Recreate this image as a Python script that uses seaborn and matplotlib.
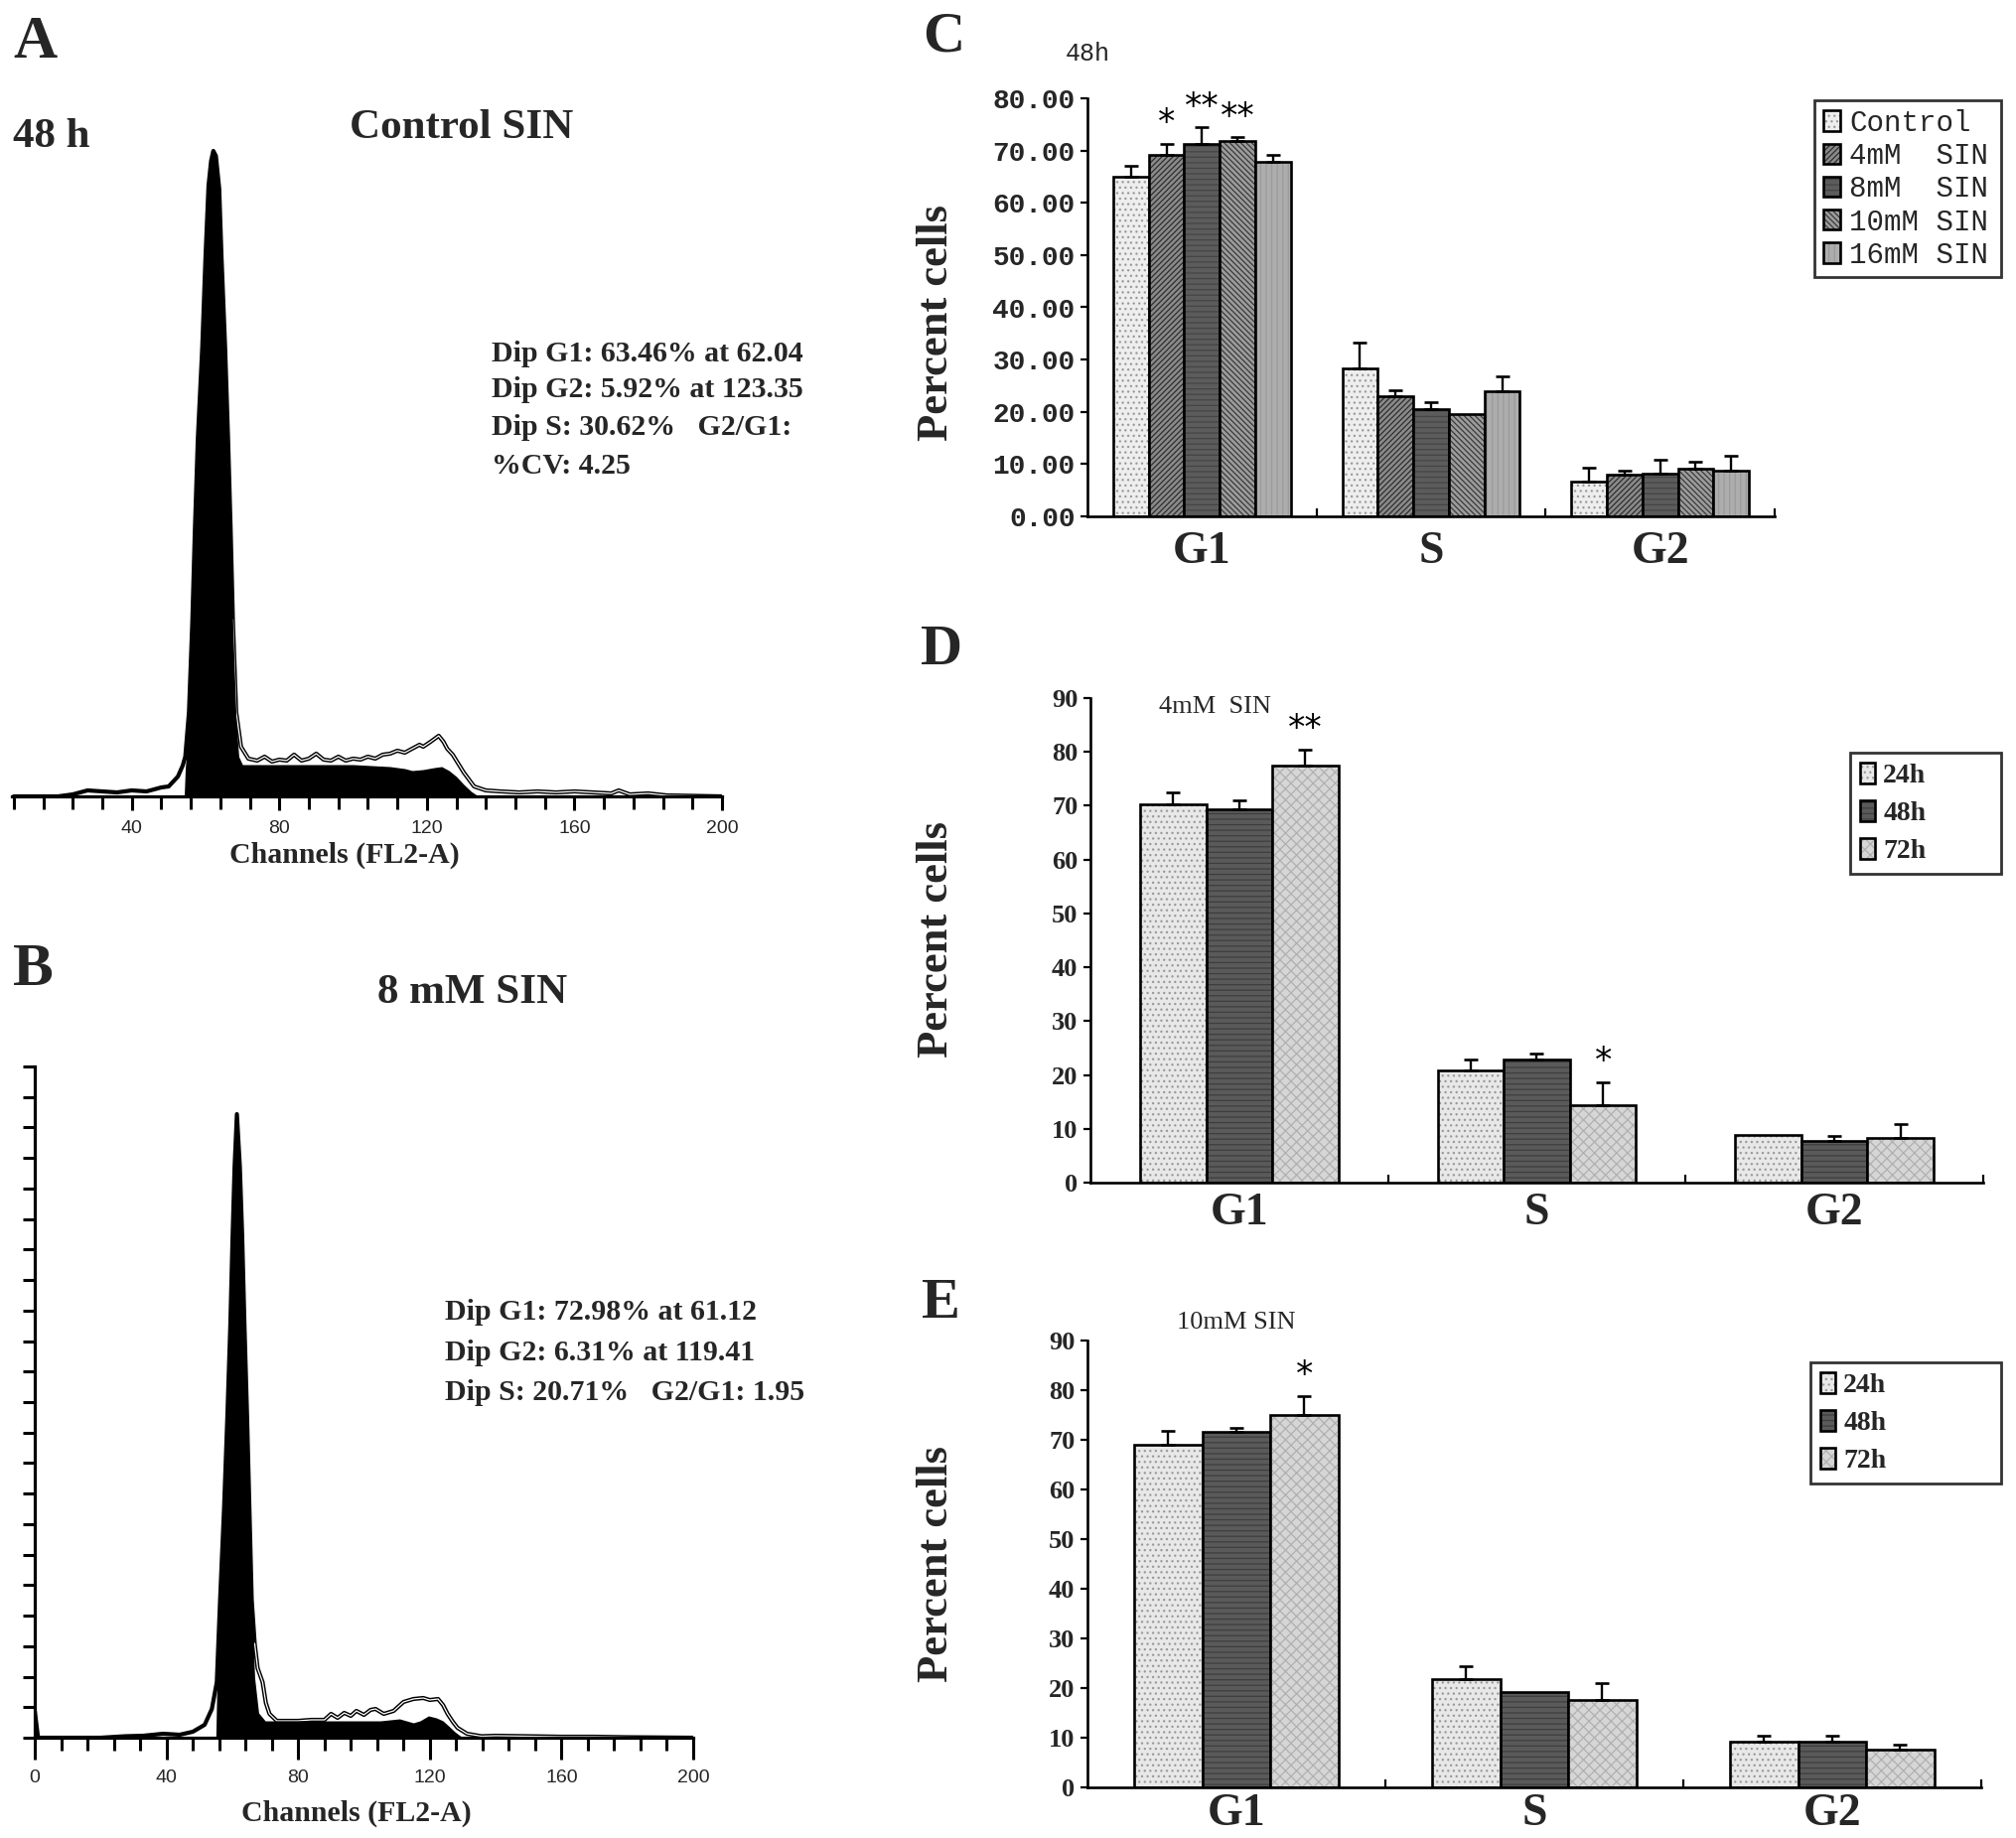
import numpy as np
import pandas as pd
import matplotlib
matplotlib.use("Agg")
import matplotlib.pyplot as plt
import seaborn as sns
from matplotlib.colors import to_rgba

sns.set_theme(style="white")
plt.rcParams["font.family"] = ["Liberation Serif", "DejaVu Sans"]
plt.rcParams["hatch.linewidth"] = 0.9

# ---------------- data: flow cytometry histograms (counts per channel) ----------------
a_raw_ch = [8, 20, 24, 28, 32, 36, 40, 44, 48, 50, 52.5, 53.8, 54.5, 55.5, 56.4, 57.1, 57.9, 59.1,
            60.0, 60.8, 61.5, 62.1, 62.8, 63.7, 64.3, 65.3, 66.1, 66.8, 67.4, 68.3, 69.6, 71.6,
            74, 76, 78, 80, 82, 84, 86, 88, 90, 92, 94, 96, 98, 100, 102, 104, 106, 108, 110, 112,
            114, 116, 118, 119, 121, 123.2, 124.5, 125.5, 127, 128, 130, 132.8, 136, 140, 145, 150,
            155, 160, 165, 170, 172, 175, 180, 185, 200]
a_raw = [0, 0, 2, 6, 5, 4, 6, 5, 9, 10, 20, 31, 40, 85, 175, 268, 360, 452,
         545, 615, 640, 650, 645, 612, 545, 452, 360, 268, 178, 85, 50, 38,
         36, 40, 35, 37, 36, 42, 36, 38, 43, 37, 36, 40, 36, 38, 37, 40, 38, 42, 43, 46,
         44, 48, 52, 50, 55, 61, 55, 48, 42, 36, 24, 10, 6, 5, 4, 5,
         4, 5, 4, 3, 6, 2, 3, 1, 0]
a_fill_ch = [54.2, 54.5, 55.5, 56.4, 57.1, 57.9, 59.1, 60.0, 60.8, 61.5, 62.1, 62.8, 63.7, 64.3,
             65.3, 66.1, 66.8, 67.4, 68.3, 69.0, 70, 75, 80, 90, 100, 105, 110, 114, 116, 119,
             122, 124, 126, 128, 130, 132, 134]
a_fill = [0, 29, 75, 168, 262, 355, 448, 541, 612, 638, 647, 640, 612, 541,
          448, 355, 262, 169, 75, 40, 32, 32, 32, 32, 32, 31, 30, 28, 26, 27,
          29, 30, 26, 20, 12, 5, 0]

b_raw_ch = [0, 1, 5, 20, 27.5, 33, 39, 44, 48, 51.6, 53.8, 55.3, 56.3, 57.5, 58.5, 59.4, 60.1,
            60.7, 61.4, 62.3, 63.0, 63.7, 64.5, 65.2, 65.9, 66.8, 67.7, 69.2, 70.2, 71.3, 73.5,
            76, 80, 84, 88, 90, 92, 94, 96, 97.7, 100, 102, 103.5, 106, 109, 112, 115, 118, 120,
            122.5, 124, 125.4, 127, 128.4, 131.3, 135.7, 140, 150, 160, 170, 180, 200]
b_raw = [27, 0, 0, 0, 1.5, 2, 4, 3, 6, 13, 29, 56, 139, 231, 323, 415, 506,
         575, 628, 575, 506, 415, 323, 231, 139, 95, 70, 56, 35, 24, 17,
         17, 17, 18, 18, 24, 20, 25, 22, 27, 23, 28, 29, 24, 27, 36, 39, 40, 38,
         39, 33, 24, 16, 10, 4, 1.5, 2, 1.5, 1, 1, 0.5, 0]
b_fill_ch = [55.0, 55.3, 56.3, 57.5, 58.5, 59.4, 60.1, 60.7, 61.4, 62.3, 63.0, 63.7, 64.5, 65.2,
             65.9, 66.8, 68, 70, 80, 90, 100, 105, 110.8, 115, 117, 119.6, 122, 124, 126, 127.6, 130]
b_fill = [0, 50, 135, 227, 320, 410, 500, 570, 622, 570, 500, 410, 320, 227,
          135, 60, 25, 17, 17, 17, 17, 17, 19, 15, 17, 22, 20, 17, 11, 6, 0]

# ---------------- data: bar charts ----------------
phases = ["G1", "S", "G2"]

c_groups = ["Control", "4mM  SIN", "8mM  SIN", "10mM SIN", "16mM SIN"]
c_vals = [[64.9, 28.4, 6.6],
          [69.2, 23.05, 8.0],
          [71.3, 20.6, 8.1],
          [71.9, 19.5, 9.2],
          [67.9, 23.9, 8.8]]
c_errs = [[2.1, 4.9, 2.7],
          [2.1, 1.15, 0.8],
          [3.1, 1.2, 2.8],
          [0.6, 0.0, 1.2],
          [1.2, 2.9, 2.7]]
c_stars = [("G1", 1, "*"), ("G1", 2, "**"), ("G1", 3, "**")]

time_groups = ["24h", "48h", "72h"]
d_vals = [[70.3, 20.8, 8.9],
          [69.4, 22.9, 7.8],
          [77.4, 14.3, 8.3]]
d_errs = [[2.2, 2.1, 0.0],
          [1.65, 1.1, 0.8],
          [3.1, 4.3, 2.6]]
d_stars = [("G1", 2, "**"), ("S", 2, "*")]

e_vals = [[69.1, 21.9, 9.2],
          [71.7, 19.3, 9.2],
          [75.1, 17.6, 7.7]]
e_errs = [[2.7, 2.6, 1.3],
          [0.7, 0.0, 1.3],
          [3.7, 3.4, 0.9]]
e_stars = [("G1", 2, "*")]

# ---------------- figure helpers ----------------
W, H = 2031, 1851
fig = plt.figure(figsize=(W / 100, H / 100), dpi=100)
fig.patch.set_facecolor("white")


def rect(l, t, r, b):
    return [l / W, 1 - b / H, (r - l) / W, (b - t) / H]


def ftext(x, y, s, **kw):
    kw.setdefault("ha", "center")
    kw.setdefault("va", "center")
    fig.text(x / W, 1 - y / H, s, **kw)


SERIF = "Liberation Serif"


def flow_panel(r, raw_ch, raw, fill_ch, fill, xlim, ylim, major_len, minor_len, yaxis,
               hollow_from):
    ax = fig.add_axes(r)
    ax.set_facecolor("none")
    sns.lineplot(x=raw_ch, y=raw, ax=ax, color="black", lw=3.0, sort=False,
                 estimator=None, zorder=1)
    ch = np.asarray(raw_ch, dtype=float)
    cnt = np.asarray(raw, dtype=float)
    keep = ch >= hollow_from
    sns.lineplot(x=ch[keep], y=cnt[keep], ax=ax, color="white", lw=0.9, sort=False,
                 estimator=None, zorder=1.5)
    ax.fill_between(fill_ch, fill, color="black", lw=0, zorder=2)
    ax.set_xlim(*xlim)
    ax.set_ylim(*ylim)
    for s in ["top", "right"]:
        ax.spines[s].set_visible(False)
    ax.spines["bottom"].set_linewidth(2.3)
    ax.spines["bottom"].set_color("black")
    ax.spines["bottom"].set_zorder(3)
    ax.set_xticks([40, 80, 120, 160, 200] if not yaxis else [0, 40, 80, 120, 160, 200])
    ax.set_xticks(np.arange(8, 201, 8), minor=True)
    ax.tick_params(axis="x", which="major", direction="out", length=major_len, width=2.2,
                   color="black", labelsize=14, pad=7, bottom=True)
    ax.tick_params(axis="x", which="minor", direction="out", length=minor_len, width=2.2,
                   color="black", bottom=True)
    for lbl in ax.get_xticklabels():
        lbl.set_fontfamily("Liberation Sans")
    if yaxis:
        ax.spines["left"].set_linewidth(2.3)
        ax.spines["left"].set_color("black")
        ax.set_yticks(np.arange(0, ylim[1] + 1, ylim[1] / 22.0))
        ax.tick_params(axis="y", which="major", direction="out", length=9, width=2.2,
                       color="black", labelleft=False, left=True)
    else:
        ax.spines["left"].set_visible(False)
        ax.set_yticks([])
    ax.set_xlabel("")
    ax.set_ylabel("")
    ax.grid(False)
    return ax


def bar_panel(r, groups, vals, errs, colors, hatches, hatchcols, width, ymax, ylabels_kw,
              yfmt, cat_pad, stars, leg_box, leg_kw):
    ax = fig.add_axes(r)
    rows = []
    for gi, g in enumerate(groups):
        for pi, p in enumerate(phases):
            rows.append({"phase": p, "group": g, "value": vals[gi][pi]})
    df = pd.DataFrame(rows)
    sns.barplot(data=df, x="phase", y="value", hue="group", order=phases, hue_order=groups,
                palette=dict(zip(groups, colors)), width=width, saturation=1,
                edgecolor="black", linewidth=1.9, errorbar=None, ax=ax, legend=False)
    bars = list(ax.containers)
    for cont, hat, hc in zip(bars, hatches, hatchcols):
        for p in cont:
            p.set_hatch(hat)
            p._hatch_color = to_rgba(hc)
            p.stale = True
    for gi, cont in enumerate(bars):
        for pi, p in enumerate(cont):
            e = errs[gi][pi]
            if e > 0:
                xc = p.get_x() + p.get_width() / 2
                ax.errorbar([xc], [vals[gi][pi]], yerr=[[0], [e]], fmt="none", ecolor="black",
                            elinewidth=1.7, capsize=5, capthick=1.9, zorder=4)
    for ph, gi, txt in stars:
        pi = phases.index(ph)
        p = bars[gi][pi]
        xc = p.get_x() + p.get_width() / 2
        ax.annotate(txt, (xc, vals[gi][pi] + errs[gi][pi]), xytext=(0, 15),
                    textcoords="offset points", ha="center", va="center",
                    fontsize=25, fontfamily="DejaVu Sans", color="black")
    ax.set_xlim(-0.5, 2.5)
    ax.set_ylim(0, ymax)
    ax.set_facecolor("none")
    for s in ["top", "right"]:
        ax.spines[s].set_visible(False)
    for s in ["left", "bottom"]:
        ax.spines[s].set_linewidth(1.9)
        ax.spines[s].set_color("black")
    ticks = list(range(0, ymax + 1, 10))
    ax.set_yticks(ticks, labels=[yfmt(t) for t in ticks], **ylabels_kw)
    ax.tick_params(axis="y", direction="out", length=5, width=1.6, color="black", pad=4,
                   left=True)
    ax.set_xticks([0, 1, 2], labels=phases, fontsize=33, fontweight="bold", fontfamily=SERIF)
    ax.tick_params(axis="x", which="major", length=0, pad=cat_pad)
    ax.set_xticks([0.5, 1.5, 2.5], minor=True)
    ax.tick_params(axis="x", which="minor", direction="in", length=6, width=1.6,
                   color="black", bottom=True)
    ax.set_xlabel("")
    ax.set_ylabel("")
    ax.grid(False)
    l, t, rr = leg_box
    leg = ax.legend(handles=bars, labels=groups, loc="upper left", mode="expand",
                    bbox_to_anchor=(l / W, 1 - t / H - 0.001, (rr - l) / W, 0.001),
                    bbox_transform=fig.transFigure, frameon=True, fancybox=False,
                    shadow=False, borderaxespad=0, **leg_kw)
    leg.get_frame().set_edgecolor("black")
    leg.get_frame().set_linewidth(2.0)
    return ax


# ---------------- panel A ----------------
flow_panel(rect(12, 120, 727, 802), a_raw_ch, a_raw, a_fill_ch, a_fill,
           (7.5, 200), (0, 682), 10, 9, yaxis=False, hollow_from=67.4)
ftext(35, 43, "A", fontsize=44, fontweight="bold", fontfamily=SERIF)
ftext(13, 138, "48 h", ha="left", fontsize=31, fontweight="bold", fontfamily=SERIF)
ftext(465, 129, "Control SIN", fontsize=31, fontweight="bold", fontfamily=SERIF)
for yy, s in zip([356, 393, 430, 469],
                 ["Dip G1: 63.46% at 62.04", "Dip G2: 5.92% at 123.35",
                  "Dip S: 30.62%   G2/G1:", "%CV: 4.25"]):
    ftext(495, yy, s, ha="left", fontsize=21.5, fontweight="bold", fontfamily=SERIF)
ftext(347, 861, "Channels (FL2-A)", fontsize=21.5, fontweight="bold", fontfamily=SERIF)

# ---------------- panel B ----------------
flow_panel(rect(35, 1074, 698, 1750), b_raw_ch, b_raw, b_fill_ch, b_fill,
           (0, 200), (0, 676), 16, 9, yaxis=True, hollow_from=66.8)
ftext(33, 977, "B", fontsize=44, fontweight="bold", fontfamily=SERIF)
ftext(476, 1000, "8 mM SIN", fontsize=31, fontweight="bold", fontfamily=SERIF)
for yy, s in zip([1321, 1362, 1402],
                 ["Dip G1: 72.98% at 61.12", "Dip G2: 6.31% at 119.41",
                  "Dip S: 20.71%   G2/G1: 1.95"]):
    ftext(448, yy, s, ha="left", fontsize=21.5, fontweight="bold", fontfamily=SERIF)
ftext(359, 1826, "Channels (FL2-A)", fontsize=21.5, fontweight="bold", fontfamily=SERIF)

# ---------------- panel C ----------------
c_colors = ["#eeeeee", "#8a8a8a", "#5c5c5c", "#9c9c9c", "#adadad"]
c_hatches = ["...", "//////", "---", "\\\\\\\\\\\\", "|||"]
c_hatchcols = ["#9a9a9a", "#2e2e2e", "#454545", "#3a3a3a", "#9a9a9a"]
bar_panel(rect(1095, 99, 1787, 520), c_groups, c_vals, c_errs, c_colors, c_hatches,
          c_hatchcols, 0.775, 80,
          dict(fontfamily="Liberation Mono", fontsize=20, fontweight="bold"),
          lambda t: f"{t:.2f}", 10.5, c_stars, (1827, 101, 2015),
          dict(prop={"family": "Liberation Mono", "size": 21}, handlelength=0.6,
               handleheight=0.7, handletextpad=0.3, borderpad=0.3, labelspacing=0.18))
ftext(950, 38, "C", fontsize=42, fontweight="bold", fontfamily=SERIF)
ftext(1095, 54, "48h", fontsize=18, fontfamily="Liberation Mono")
ftext(943, 325, "Percent cells", rotation=90, fontsize=32, fontweight="bold", fontfamily=SERIF)

# ---------------- panel D ----------------
t_colors = ["#e8e8e8", "#5a5a5a", "#d6d6d6"]
t_hatches = ["...", "---", "xxx"]
t_hatchcols = ["#9a9a9a", "#3e3e3e", "#b0b0b0"]
bar_panel(rect(1098, 703, 1997, 1191), time_groups, d_vals, d_errs, t_colors, t_hatches,
          t_hatchcols, 0.667, 90,
          dict(fontfamily=SERIF, fontsize=19, fontweight="bold"),
          lambda t: f"{t}", 7, d_stars, (1863, 758, 2015),
          dict(prop={"family": SERIF, "size": 20, "weight": "bold"}, handlelength=0.55,
               handleheight=0.8, handletextpad=0.3, borderpad=0.35, labelspacing=0.42))
ftext(948, 655, "D", fontsize=42, fontweight="bold", fontfamily=SERIF)
ftext(1167, 712, "4mM  SIN", ha="left", fontsize=19, fontfamily=SERIF)
ftext(943, 946, "Percent cells", rotation=90, fontsize=32, fontweight="bold", fontfamily=SERIF)

# ---------------- panel E ----------------
bar_panel(rect(1095, 1350, 1995, 1800), time_groups, e_vals, e_errs, t_colors, t_hatches,
          t_hatchcols, 0.685, 90,
          dict(fontfamily=SERIF, fontsize=19, fontweight="bold"),
          lambda t: f"{t}", 4, e_stars, (1823, 1372, 2015),
          dict(prop={"family": SERIF, "size": 20, "weight": "bold"}, handlelength=0.55,
               handleheight=0.8, handletextpad=0.3, borderpad=0.35, labelspacing=0.42))
ftext(947, 1313, "E", fontsize=42, fontweight="bold", fontfamily=SERIF)
ftext(1185, 1332, "10mM SIN", ha="left", fontsize=19, fontfamily=SERIF)
ftext(943, 1575, "Percent cells", rotation=90, fontsize=32, fontweight="bold", fontfamily=SERIF)

fig.savefig("out.png", dpi=100, facecolor="white")
